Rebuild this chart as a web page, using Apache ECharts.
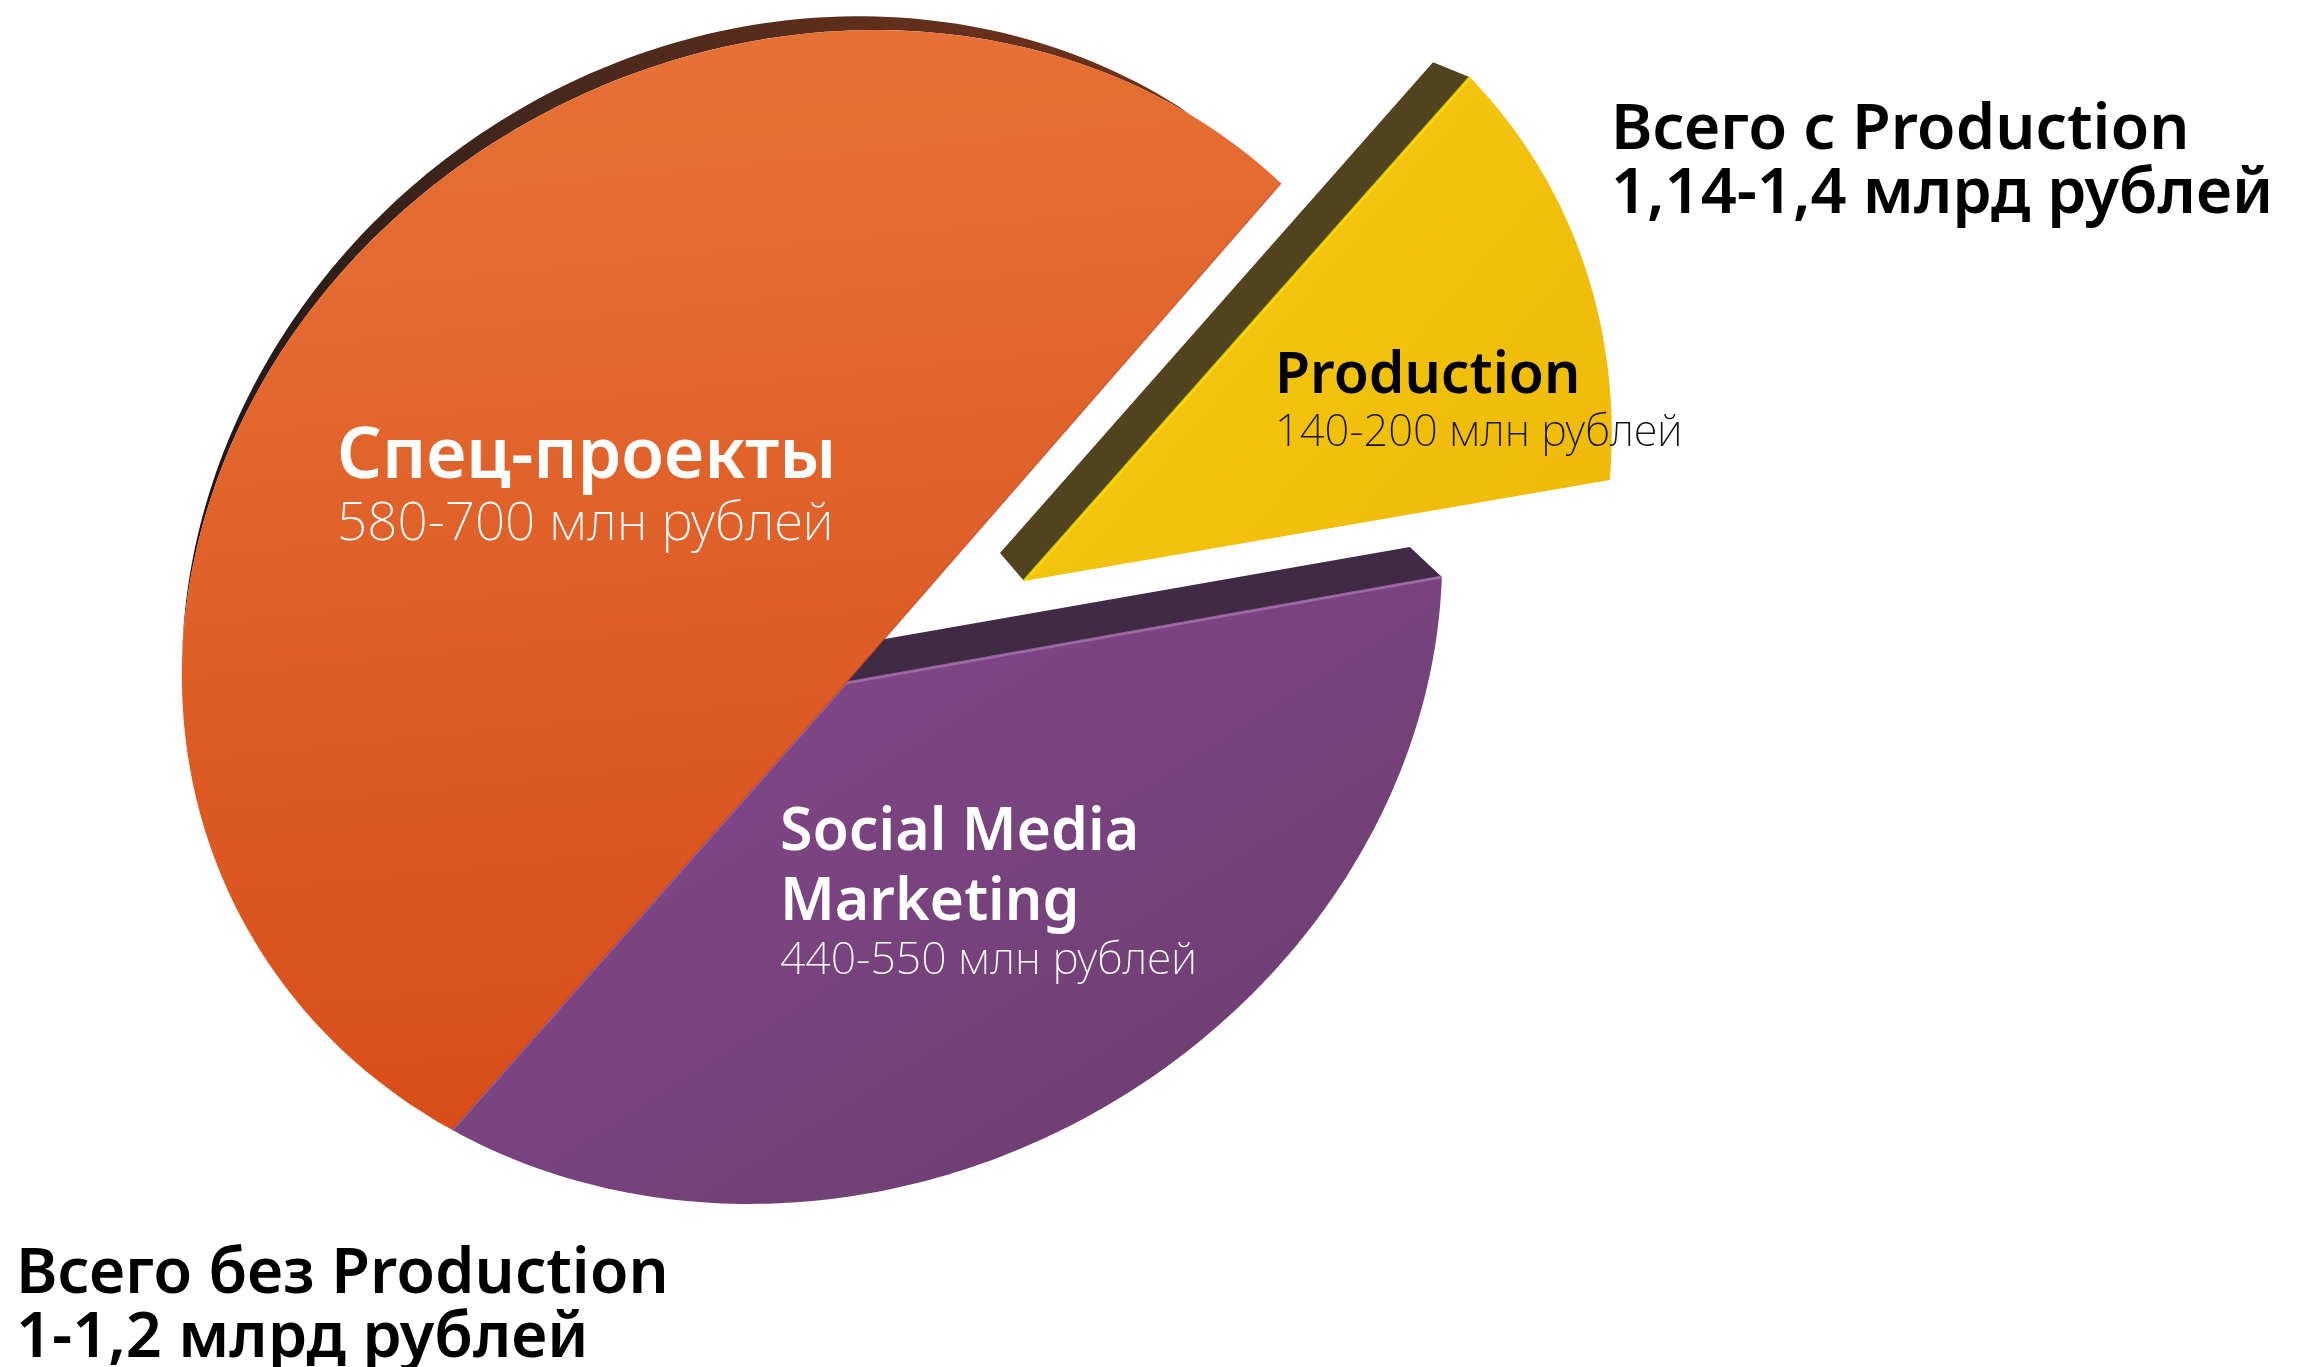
<!DOCTYPE html>
<html>
<head>
<meta charset="utf-8">
<title>Pie</title>
<script src="https://cdn.jsdelivr.net/npm/echarts@6/dist/echarts.min.js"></script>
<style>
  html, body { margin: 0; padding: 0; background: #fff; }
  #chart { width: 2314px; height: 1367px; }
</style>
</head>
<body>
<div id="chart"></div>
<script>
// slices, counter-clockwise from the Production slice
const sliceNames = ['Production', 'Спец-проекты', 'Social Media Marketing'];
// share of the full turn in %
const sliceShares = [10.8, 49.9, 39.3];
const sliceRanges = ['140-200 млн рублей', '580-700 млн рублей', '440-550 млн рублей'];
const totalWith = ['Всего с Production', '1,14-1,4 млрд рублей'];
const totalWithout = ['Всего без Production', '1-1,2 млрд рублей'];

const FONT = '"Noto Sans", sans-serif';

// tilted pie geometry in px
const apex = [846, 683];
const center = [812, 617];
const rx = 627, ry = 584, skew = 0.1;
const startDeg = 10.08;

const sliceLook = [
  {
    z: 1, move: [178, -102], rimStart: [-10, 5], rimEnd: [11, -4], wallApex: [-24, -28], wallRim: [-37, -15], wall: '#52431f',
    top: '#f4cc10', bottom: '#efb908', edge: '#f9e200', dir: [0, 0, 1, 1]
  },
  {
    z: 5, move: [0, 0], top: '#e77337', bottom: '#d84e1b', edge: '#b9431a', dir: [0, 0, 0.1, 1]
  },
  {
    z: 3, move: [0, 0], wallApex: [-24, -33], wallRim: [-32, -30], wall: '#402a45',
    top: '#85488b', bottom: '#6e3f73', edge: '#a56fad', dir: [0.2, 0, 0.6, 1]
  }
];

// y values here are text baselines
const labelLook = [
  { x: 1275, names: [['Production', 392]], nameColor: '#000', nameSize: 57, rangeY: 445, rangeSize: 43.5, rangeColor: '#111' },
  { x: 337, names: [['Спец-проекты', 476]], nameColor: '#fff', nameSize: 70, rangeY: 539, rangeSize: 53, rangeColor: '#fff' },
  { x: 780, names: [['Social Media', 849], ['Marketing', 919]], nameColor: '#fff', nameSize: 59, rangeY: 973, rangeSize: 44.5, rangeColor: '#fff' }
];

// where a ray from the apex hits the tilted ellipse
function rimPoint(deg) {
  const a = deg * Math.PI / 180;
  const dx = Math.cos(a) / rx, dy = -Math.sin(a) / ry;
  const px = (apex[0] - center[0]) / rx, py = (apex[1] - center[1]) / ry;
  const A = dx * dx + dy * dy + 2 * skew * dx * dy;
  const B = 2 * (px * dx + py * dy + skew * (px * dy + py * dx));
  const C = px * px + py * py + 2 * skew * px * py - 1;
  const t = (-B + Math.sqrt(B * B - 4 * A * C)) / (2 * A);
  return [apex[0] + t * Math.cos(a), apex[1] - t * Math.sin(a)];
}

function shift(p, d) { return [p[0] + d[0], p[1] + d[1]]; }

// zrender puts text by the bottom of its line box, so go from baseline to bottom
function bottomY(baseline, size) { return baseline + size * 0.24; }

function renderSlice(params, api) {
  const i = params.dataIndex;
  const look = sliceLook[i];
  let from = startDeg;
  for (let k = 0; k < i; k++) from += sliceShares[k] * 3.6;
  const to = from + api.value(0) * 3.6;

  const arc = [];
  for (let d = from; d < to; d += 1) arc.push(rimPoint(d));
  arc.push(rimPoint(to));
  const tip = shift(apex, look.move);
  const outer = arc.map((p, n) => {
    const q = shift(p, look.move);
    if (!look.rimStart) return q;
    const t = n / (arc.length - 1);
    return [q[0] + look.rimStart[0] * (1 - t) + look.rimEnd[0] * t, q[1] + look.rimStart[1] * (1 - t) + look.rimEnd[1] * t];
  });
  const first = outer[0], last = outer[outer.length - 1];
  const children = [];

  // back wall along the far edge of the slice
  if (look.wall) {
    children.push({
      type: 'polygon', z2: look.z,
      shape: { points: [tip, last, shift(last, look.wallRim), shift(tip, look.wallApex)] },
      style: { fill: look.wall }
    });
  }

  // dark rim of the large slice, top left
  if (i === 1) {
    const rimFrom = 58.8, rimTo = 178;
    const inner = [], back = [];
    for (let d = rimFrom; d <= rimTo; d += 1) {
      const p = rimPoint(d);
      const t = (d - rimFrom) / (rimTo - rimFrom);
      const w = Math.sin(Math.PI * Math.pow(t, 0.7));
      inner.push(p);
      back.unshift([p[0] - 7 * w, p[1] - 15 * w]);
    }
    children.push({
      type: 'polygon', z2: look.z,
      shape: { points: inner.concat(back) },
      style: {
        fill: new echarts.graphic.LinearGradient(1, 0, 0, 1, [
          { offset: 0, color: '#75331a' },
          { offset: 0.5, color: '#45281d' },
          { offset: 1, color: '#141312' }
        ])
      }
    });
  }

  children.push({
    type: 'polygon', z2: look.z + 1,
    shape: { points: [tip].concat(outer) },
    style: {
      fill: new echarts.graphic.LinearGradient(look.dir[0], look.dir[1], look.dir[2], look.dir[3], [
        { offset: 0, color: look.top },
        { offset: 1, color: look.bottom }
      ])
    }
  });

  // thin lit edges of the slice sides
  const sides = i === 0 ? [last] : [first, last];
  sides.forEach(s => {
    children.push({
      type: 'line', z2: look.z + 2,
      shape: { x1: tip[0], y1: tip[1], x2: s[0], y2: s[1] },
      style: { stroke: look.edge, lineWidth: i === 1 ? 1.5 : 3, opacity: i === 1 ? 0.6 : 0.8 }
    });
  });

  // labels
  const lab = labelLook[i];
  lab.names.forEach(n => {
    children.push({
      type: 'text', z2: 20, x: lab.x, y: bottomY(n[1], lab.nameSize),
      style: {
        text: n[0], fill: lab.nameColor, font: '600 ' + lab.nameSize + 'px ' + FONT,
        verticalAlign: 'bottom'
      }
    });
  });
  children.push({
    type: 'text', z2: 20, x: lab.x, y: bottomY(lab.rangeY, lab.rangeSize),
    style: {
      text: sliceRanges[i], fill: lab.rangeColor, font: '200 ' + lab.rangeSize + 'px ' + FONT,
      verticalAlign: 'bottom'
    }
  });

  return { type: 'group', children: children };
}

function totalText(lines, x, y1, y2) {
  return lines.map((t, i) => ({
    type: 'text', x: x, y: bottomY(i === 0 ? y1 : y2, 63), z: 10,
    style: { text: t, fill: '#000', font: '600 63px ' + FONT, verticalAlign: 'bottom' }
  }));
}

const chart = echarts.init(document.getElementById('chart'), null, { renderer: 'canvas' });
chart.setOption({
  animation: false,
  backgroundColor: '#fff',
  graphic: totalText(totalWith, 1611, 147, 211).concat(totalText(totalWithout, 16, 1291, 1355)),
  series: [{
    type: 'custom',
    coordinateSystem: 'none',
    name: 'budget',
    silent: true,
    data: sliceShares.map((v, i) => ({ name: sliceNames[i], value: [v] })),
    renderItem: renderSlice
  }]
});
window.addEventListener('resize', () => chart.resize(), false);
</script>
</body>
</html>
